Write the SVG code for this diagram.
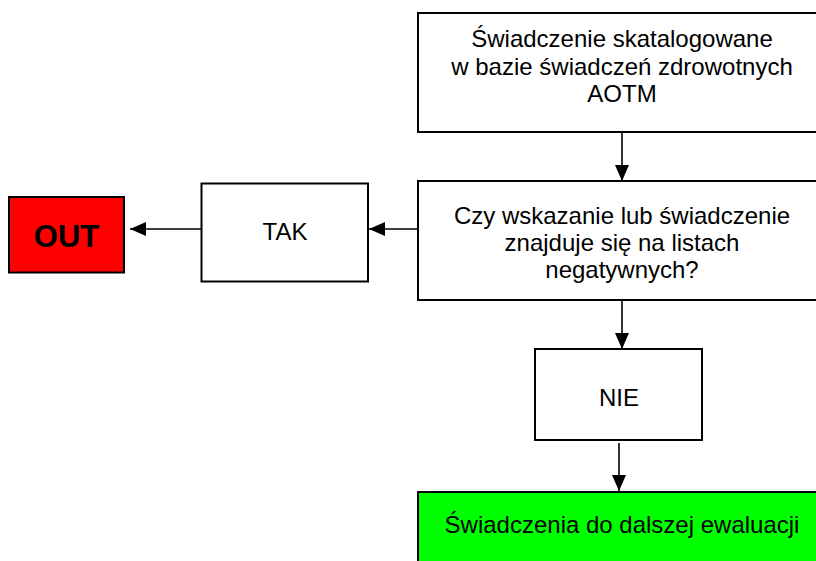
<svg xmlns="http://www.w3.org/2000/svg" width="816" height="561" viewBox="0 0 816 561">
  <style>
    .box { stroke: #000; stroke-width: 2; }
    .lbl { font-family: "Liberation Sans", Arial, sans-serif; font-size: 24px; fill: #000; text-anchor: middle; }
    .bold { font-weight: bold; font-size: 31px; }
    .conn { stroke: #000; stroke-width: 1.6; fill: none; marker-end: url(#arrow); }
  </style>
  <defs>
    <marker id="arrow" markerUnits="userSpaceOnUse" markerWidth="16" markerHeight="14" refX="16" refY="7" orient="auto">
      <path d="M0,0 L16,7 L0,14 Z" fill="#000"/>
    </marker>
  </defs>

  <rect width="816" height="561" fill="#fff"/>

  <g id="connectors">
    <line class="conn" x1="622" y1="132" x2="622" y2="181"/>
    <line class="conn" x1="418" y1="229" x2="369" y2="229"/>
    <line class="conn" x1="201" y1="229" x2="130" y2="229"/>
    <line class="conn" x1="622" y1="300" x2="622" y2="349"/>
    <line class="conn" x1="619" y1="443" x2="619" y2="491"/>
  </g>

  <g id="catalogued">
    <rect class="box" x="418" y="13" width="410" height="119" fill="#fff"/>
    <text class="lbl" x="622" y="47">Świadczenie skatalogowane</text>
    <text class="lbl" x="622" y="75">w bazie świadczeń zdrowotnych</text>
    <text class="lbl" x="622" y="102">AOTM</text>
  </g>

  <g id="question">
    <rect class="box" x="418" y="181" width="410" height="119" fill="#fff"/>
    <text class="lbl" x="622" y="224">Czy wskazanie lub świadczenie</text>
    <text class="lbl" x="622" y="251">znajduje się na listach</text>
    <text class="lbl" x="622" y="278">negatywnych?</text>
  </g>

  <g id="tak">
    <rect class="box" x="201.5" y="183.5" width="166.5" height="98" fill="#fff"/>
    <text class="lbl" x="285" y="240">TAK</text>
  </g>

  <g id="out">
    <rect class="box" x="9" y="197" width="115" height="75.5" fill="#ff0000"/>
    <text class="lbl bold" x="66.5" y="247">OUT</text>
  </g>

  <g id="nie">
    <rect class="box" x="535" y="349" width="167" height="91" fill="#fff"/>
    <text class="lbl" x="619" y="406">NIE</text>
  </g>

  <g id="evaluation">
    <rect class="box" x="418" y="492" width="410" height="80" fill="#00ff00"/>
    <text class="lbl" x="622" y="533">Świadczenia do dalszej ewaluacji</text>
  </g>
</svg>
